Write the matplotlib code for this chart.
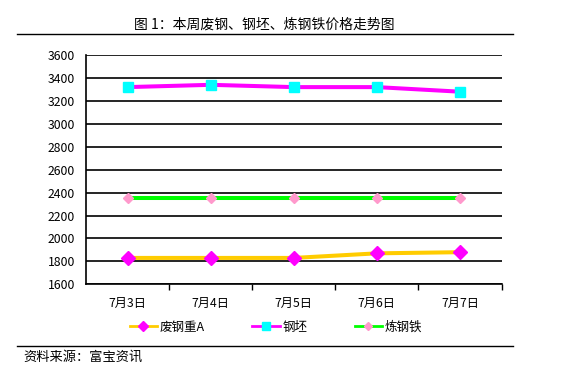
import matplotlib.pyplot as plt
from matplotlib.lines import Line2D

plt.rcParams['font.family'] = ['Noto Sans CJK SC', 'DejaVu Sans']

# ---------------- Data ----------------
dates = ["7月3日", "7月4日", "7月5日", "7月6日", "7月7日"]
scrap_a = [1830, 1830, 1830, 1870, 1880]      # 废钢重A
billet = [3320, 3340, 3320, 3320, 3280]       # 钢坯
pig_iron = [2350, 2350, 2350, 2350, 2350]     # 炼钢铁
y_ticks = [1600, 1800, 2000, 2200, 2400, 2600, 2800, 3000, 3200, 3400, 3600]

# ---------------- Figure ----------------
fig = plt.figure(figsize=(5.63, 3.76), dpi=100)
ax = fig.add_axes([0.1528, 0.2439, 0.7380, 0.6098])

x = list(range(len(dates)))
ax.plot(x, scrap_a, color="#FFCC00", lw=2.9, marker="D", ms=7.5,
        mfc="#FF00FF", mec="#FF00FF", zorder=3)
ax.plot(x, billet, color="#FF00FF", lw=2.9, marker="s", ms=7.5,
        mfc="#00FFFF", mec="#00FFFF", zorder=3)
ax.plot(x, pig_iron, color="#00FF00", lw=2.9, marker="D", ms=5.5,
        mfc="#FF99CC", mec="#FF99CC", zorder=3)

ax.set_xlim(-0.5, len(dates) - 0.5)
ax.set_ylim(y_ticks[0], y_ticks[-1])
ax.set_yticks(y_ticks)
ax.yaxis.grid(True, color="black", lw=1.2)
ax.set_axisbelow(True)
ax.tick_params(axis="y", length=0, pad=8, labelsize=8.8)

# category ticks between labels
ax.set_xticks([i + 0.5 for i in x])
ax.set_xticklabels([])
ax.set_xticks(x, minor=True)
ax.set_xticklabels(dates, minor=True, fontsize=8.8)
ax.tick_params(axis="x", which="major", length=4, width=1, direction="out")
ax.tick_params(axis="x", which="minor", length=0, pad=9)

for side in ["top", "right"]:
    ax.spines[side].set_visible(False)
ax.spines["left"].set_linewidth(1.2)
ax.spines["bottom"].set_linewidth(1.2)

# legend
handles = [
    Line2D([], [], color="#FFCC00", lw=2, marker="D", ms=5, mfc="#FF00FF", mec="#FF00FF"),
    Line2D([], [], color="#FF00FF", lw=2, marker="s", ms=6, mfc="#00FFFF", mec="#00FFFF"),
    Line2D([], [], color="#00FF00", lw=2, marker="D", ms=4.5, mfc="#FF99CC", mec="#FF99CC"),
]
fig.legend(handles, ["废钢重A", "钢坯", "炼钢铁"], loc="center",
           bbox_to_anchor=(0.49, 0.13), ncol=3, frameon=False, fontsize=9,
           handlelength=2.2, handletextpad=0.2, columnspacing=3.8)

# title and rules
fig.text(0.47, 0.935, "图 1：本周废钢、钢坯、炼钢铁价格走势图", ha="center", va="center", fontsize=10)
fig.add_artist(Line2D([0.03, 0.912], [0.91, 0.91], color="black", lw=1))
fig.add_artist(Line2D([0.03, 0.912], [0.08, 0.08], color="black", lw=1))
fig.text(0.042, 0.05, "资料来源：富宝资讯", ha="left", va="center", fontsize=9.5)

fig.savefig("out.png", dpi=100)
